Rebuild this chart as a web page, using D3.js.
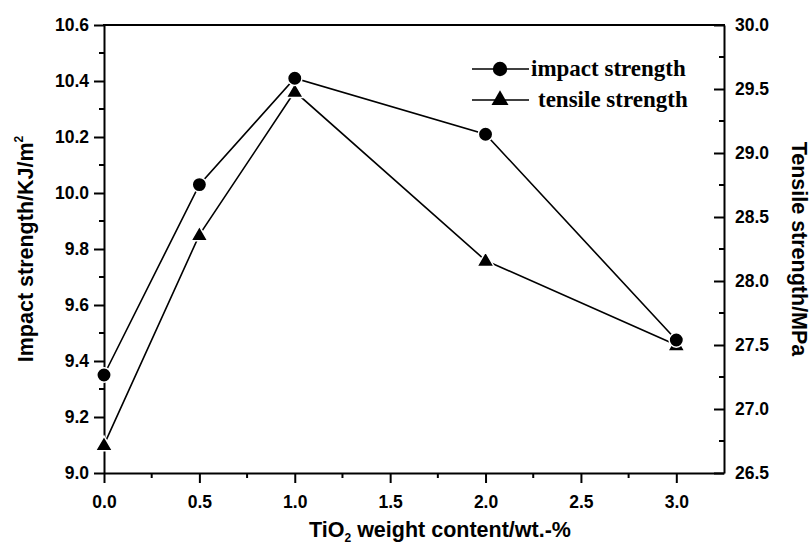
<!DOCTYPE html>
<html><head><meta charset="utf-8">
<script src="https://cdn.jsdelivr.net/npm/d3@7"></script>
<style>
html,body{margin:0;padding:0;background:#fff;}
svg{display:block;}
.axis text{font-family:"Liberation Sans",Arial,sans-serif;font-weight:bold;font-size:17.5px;fill:#000;}
.axis path,.axis line{stroke:#000;stroke-width:2;}
</style>
</head><body>
<svg id="chart" width="812" height="545"></svg>
<script>
// ---- data ----
const contents = [0.0, 0.5, 1.0, 2.0, 3.0];
const impactStrength = [9.35, 10.03, 10.41, 10.21, 9.475];
const tensileStrength = [26.72, 28.36, 29.48, 28.16, 27.5];
const xTicks = [0.0, 0.5, 1.0, 1.5, 2.0, 2.5, 3.0];
const leftTicks = [9.0, 9.2, 9.4, 9.6, 9.8, 10.0, 10.2, 10.4, 10.6];
const rightTicks = [26.5, 27.0, 27.5, 28.0, 28.5, 29.0, 29.5, 30.0];
const seriesNames = ["impact strength", "tensile strength"];

const svg = d3.select("#chart");
const L = 104, R = 724, T = 25, B = 473;
const x = d3.scaleLinear().domain([0, 3.25]).range([L, R]);
const yL = d3.scaleLinear().domain([9.0, 10.6]).range([B, T]);
const yR = d3.scaleLinear().domain([26.5, 30.0]).range([B, T]);

// minor ticks
const xMinor = d3.range(0.25, 3.25, 0.5);
const lMinor = d3.range(9.1, 10.6, 0.2);
const rMinor = d3.range(26.75, 30, 0.5);

// bottom axis
const gx = svg.append("g").attr("class","axis").attr("transform",`translate(0,${B})`)
  .call(d3.axisBottom(x).tickValues(xTicks).tickFormat(d3.format(".1f")).tickSizeInner(10).tickSizeOuter(0).tickPadding(13));
gx.append("g").selectAll("line").data(xMinor).join("line")
  .attr("x1",d=>x(d)).attr("x2",d=>x(d)).attr("y1",0).attr("y2",5).attr("stroke","#000").attr("stroke-width",2);

// left axis
const gl = svg.append("g").attr("class","axis").attr("transform",`translate(${L},0)`)
  .call(d3.axisLeft(yL).tickValues(leftTicks).tickFormat(d3.format(".1f")).tickSizeInner(10).tickSizeOuter(0).tickPadding(5));
gl.append("g").selectAll("line").data(lMinor).join("line")
  .attr("y1",d=>yL(d)).attr("y2",d=>yL(d)).attr("x1",0).attr("x2",-5).attr("stroke","#000").attr("stroke-width",2);

// right axis (ticks inward)
const gr = svg.append("g").attr("class","axis").attr("transform",`translate(${R},0)`)
  .call(d3.axisRight(yR).tickValues(rightTicks).tickFormat(d3.format(".1f")).tickSizeInner(-10).tickSizeOuter(0).tickPadding(11));
gr.append("g").selectAll("line").data(rMinor).join("line")
  .attr("y1",d=>yR(d)).attr("y2",d=>yR(d)).attr("x1",0).attr("x2",-5).attr("stroke","#000").attr("stroke-width",2);

// top frame
svg.append("line").attr("x1",L-1).attr("x2",R+1).attr("y1",T).attr("y2",T).attr("stroke","#000").attr("stroke-width",2);

// lines
const impactData = contents.map((c,i)=>[x(c), yL(impactStrength[i])]);
const tensileData = contents.map((c,i)=>[x(c), yR(tensileStrength[i])]);
const line = d3.line();
svg.append("path").attr("d", line(tensileData)).attr("fill","none").attr("stroke","#000").attr("stroke-width",1.6);
svg.append("path").attr("d", line(impactData)).attr("fill","none").attr("stroke","#000").attr("stroke-width",1.6);

const tri = d3.symbol().type(d3.symbolTriangle).size(125);
svg.append("g").selectAll("path").data(tensileData).join("path")
  .attr("d", tri).attr("transform", d=>`translate(${d[0]},${d[1]+1})`)
  .attr("fill","#000").attr("stroke","#fff").attr("stroke-width",1.5);
svg.append("g").selectAll("circle").data(impactData).join("circle")
  .attr("cx", d=>d[0]).attr("cy", d=>d[1]).attr("r", 7.2)
  .attr("fill","#000").attr("stroke","#fff").attr("stroke-width",1.5);

// legend
const lg = svg.append("g");
const legRows = [{y:69, sym:"circle", tx:531, name:seriesNames[0]}, {y:100, sym:"tri", tx:538, name:seriesNames[1]}];
legRows.forEach(r=>{
  lg.append("line").attr("x1",472).attr("x2",529).attr("y1",r.y).attr("y2",r.y).attr("stroke","#000").attr("stroke-width",1.6);
  if (r.sym==="circle") lg.append("circle").attr("cx",500).attr("cy",r.y).attr("r",7.2).attr("fill","#000");
  else lg.append("path").attr("d",tri).attr("transform",`translate(500,${r.y})`).attr("fill","#000");
  lg.append("text").attr("x",r.tx).attr("y",r.y+7).text(r.name)
    .style("font-family","'Liberation Serif','Times New Roman',serif").style("font-weight","bold").style("font-size","23px");
});

// axis titles
const tstyle = s => s.style("font-family","'Liberation Sans',Arial,sans-serif").style("font-weight","bold").style("font-size","21.5px").attr("fill","#000");
const xt = svg.append("text").attr("x",440).attr("y",537).attr("text-anchor","middle").call(tstyle);
xt.append("tspan").text("TiO");
xt.append("tspan").text("2").style("font-size","12px").attr("dy",5);
xt.append("tspan").text(" weight content/wt.-%").attr("dy",-5);

const ylt = svg.append("text").attr("transform",`translate(33,${(T+B)/2}) rotate(-90)`).attr("text-anchor","middle").call(tstyle);
ylt.append("tspan").text("Impact strength/KJ/m");
ylt.append("tspan").text("2").style("font-size","12px").attr("dy",-10);

svg.append("text").attr("transform",`translate(792,${(T+B)/2}) rotate(90)`).attr("text-anchor","middle").call(tstyle).text("Tensile strength/MPa");
</script>
</body></html>
